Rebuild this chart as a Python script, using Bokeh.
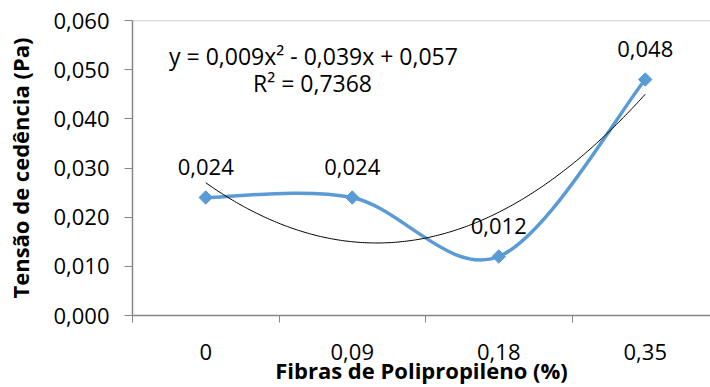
import numpy as np
from bokeh.plotting import figure
from bokeh.models import FixedTicker, CustomJSTickFormatter, Range1d, Span, Label
from bokeh.core.properties import value
from bokeh.embed import file_html
from bokeh.resources import INLINE

# ---- data ----
categories = ["0", "0,09", "0,18", "0,35"]
yield_stress = [0.024, 0.024, 0.012, 0.048]
point_labels = ["0,024", "0,024", "0,012", "0,048"]
y_ticks = [0.0, 0.01, 0.02, 0.03, 0.04, 0.05, 0.06]
equation_text = "y = 0,009x² - 0,039x + 0,057"
r2_text = "R² = 0,7368"
x_title = "Fibras de Polipropileno (%)"
y_title = "Tensão de cedência (Pa)"

FONT = "Open Sans"
BLUE = "#5B9BD5"
GRAY = "#868686"

xs = np.arange(1, len(categories) + 1, dtype=float)
ys = np.array(yield_stress)

p = figure(width=710, height=387, output_backend="svg", toolbar_location=None,
           x_range=Range1d(0.5, 0.5 + (710 - 132) / 146.5), y_range=Range1d(0, 0.06),
           min_border_left=132, min_border_top=20, min_border_right=0, min_border_bottom=69)
p.outline_line_color = None
p.grid.grid_line_color = None
p.background_fill_color = "white"

# top border line
p.add_layout(Span(location=0.06, dimension="width", line_color="#BFBFBF", line_width=1.5))

# smoothed line (Excel-like Catmull-Rom bezier) through the data points
n = len(xs)
pts = np.column_stack([xs, ys])
for i in range(n - 1):
    p0 = pts[i - 1] if i > 0 else pts[i]
    p1 = pts[i]
    p2 = pts[i + 1]
    p3 = pts[i + 2] if i + 2 < n else pts[i + 1]
    c1 = p1 + (p2 - p0) / 6.0
    c2 = p2 - (p3 - p1) / 6.0
    p.bezier(x0=[p1[0]], y0=[p1[1]], x1=[p2[0]], y1=[p2[1]],
             cx0=[c1[0]], cy0=[c1[1]], cx1=[c2[0]], cy1=[c2[1]],
             line_color=BLUE, line_width=3.5)

# polynomial trendline (order 2) fitted to the data
coef = np.polyfit(xs, ys, 2)
xt = np.linspace(xs[0], xs[-1], 200)
p.line(xt, np.polyval(coef, xt), line_color="black", line_width=1)

p.scatter(xs, ys, marker="square", angle=np.pi / 4, size=9.5,
          fill_color=BLUE, line_color=BLUE)

p.text(xs, ys, text=point_labels, text_align="center", text_baseline="middle",
       y_offset=-31, text_font=value(FONT), text_font_size="22px", text_color="black")

# trendline equation (screen units relative to the plot frame's bottom-left)
p.add_layout(Label(x=181, y=260, x_units="screen", y_units="screen",
                   text=equation_text, text_align="center", text_baseline="middle",
                   text_font=FONT, text_font_size="23px", text_color="black"))
p.add_layout(Label(x=180, y=233, x_units="screen", y_units="screen",
                   text=r2_text, text_align="center", text_baseline="middle",
                   text_font=FONT, text_font_size="23px", text_color="black"))

# x axis
xa = p.xaxis[0]
xa.ticker = FixedTicker(ticks=list(xs), minor_ticks=[0.5, 1.5, 2.5, 3.5, 4.5])
xa.major_label_overrides = {int(x): c for x, c in zip(xs, categories)}
xa.major_tick_line_color = None
xa.major_tick_out = 0
xa.major_tick_in = 0
xa.minor_tick_line_color = GRAY
xa.minor_tick_out = 7
xa.minor_tick_in = 0
xa.axis_line_color = GRAY
xa.axis_line_width = 1.5
xa.major_label_standoff = 21
xa.major_label_text_font = FONT
xa.major_label_text_font_size = "22px"
xa.major_label_text_color = "black"
xa.axis_label = x_title
xa.axis_label_text_font = FONT
xa.axis_label_text_font_style = "bold"
xa.axis_label_text_font_size = "22px"
xa.axis_label_text_color = "black"
xa.axis_label_standoff = -8

# y axis
ya = p.yaxis[0]
ya.ticker = FixedTicker(ticks=y_ticks, minor_ticks=[])
ya.formatter = CustomJSTickFormatter(code="return tick.toFixed(3).replace('.', ',');")
ya.major_tick_line_color = GRAY
ya.major_tick_out = 8
ya.major_tick_in = 0
ya.minor_tick_line_color = None
ya.axis_line_color = GRAY
ya.axis_line_width = 1.5
ya.major_label_standoff = 15
ya.major_label_text_font = FONT
ya.major_label_text_font_size = "22px"
ya.major_label_text_color = "black"
ya.axis_label = y_title
ya.axis_label_text_font = FONT
ya.axis_label_text_font_style = "bold"
ya.axis_label_text_font_size = "22px"
ya.axis_label_text_color = "black"
ya.axis_label_standoff = 15

open("out.html", "w").write(file_html(p, INLINE))
